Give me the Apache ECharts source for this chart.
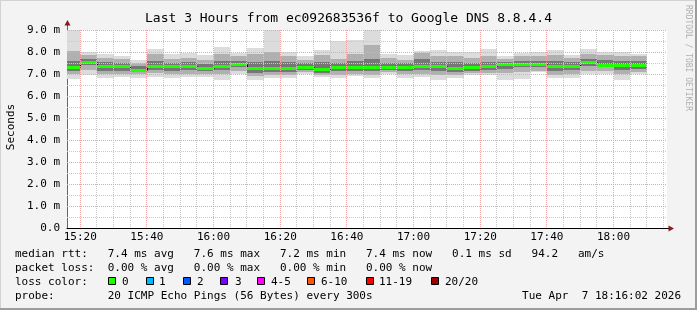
<!DOCTYPE html>
<html><head><meta charset="utf-8">
<script src="https://cdn.jsdelivr.net/npm/echarts@6/dist/echarts.min.js"></script>
<style>html,body{margin:0;padding:0;background:#f3f3f3}#c{width:697px;height:310px}</style>
</head><body><div id="c"></div>
<script>
// ---- data (ms) : each step ends at the time given, 5 minute steps ----
const stepEnds = ['15:20','15:25','15:30','15:35','15:40','15:45','15:50','15:55','16:00','16:05',
  '16:10','16:15','16:20','16:25','16:30','16:35','16:40','16:45','16:50','16:55',
  '17:00','17:05','17:10','17:15','17:20','17:25','17:30','17:35','17:40','17:45',
  '17:50','17:55','18:00','18:05','18:10'];
const median = [7.33,7.55,7.36,7.36,7.20,7.37,7.35,7.38,7.27,7.37,7.45,7.28,7.28,7.29,7.33,7.25,7.34,7.30,7.33,7.34,
  7.34,7.37,7.36,7.28,7.33,7.38,7.46,7.47,7.45,7.37,7.37,7.55,7.43,7.43,7.43];
const pMax = [9.06,7.99,7.90,7.82,7.64,8.14,7.93,7.95,7.87,8.23,7.95,8.17,9.06,7.98,7.83,8.08,8.50,8.55,9.06,7.93,
  7.86,8.05,8.10,7.98,7.98,8.13,7.82,7.96,7.98,8.08,7.87,8.13,8.02,7.98,7.93];
const p90 = [8.05,7.85,7.75,7.70,7.50,7.90,7.70,7.75,7.65,7.90,7.80,7.90,8.00,7.80,7.65,7.85,7.70,7.90,8.30,7.75,
  7.65,7.95,7.80,7.80,7.75,7.80,7.70,7.80,7.80,7.85,7.75,7.90,7.85,7.80,7.80];
const p75 = [7.60,7.70,7.55,7.50,7.35,7.60,7.50,7.55,7.45,7.60,7.60,7.55,7.60,7.55,7.50,7.55,7.50,7.60,7.70,7.50,
  7.50,7.70,7.55,7.55,7.50,7.55,7.55,7.60,7.60,7.60,7.55,7.70,7.65,7.60,7.60];
const p25 = [7.15,7.40,7.15,7.15,7.10,7.20,7.15,7.20,7.15,7.20,7.30,7.05,7.10,7.10,7.20,7.05,7.15,7.15,7.15,7.20,
  7.15,7.20,7.15,7.10,7.15,7.20,7.25,7.30,7.30,7.15,7.20,7.35,7.30,7.20,7.25];
const p10 = [7.00,7.20,7.00,7.00,7.00,7.05,7.00,7.00,7.00,7.00,7.15,6.90,6.95,6.95,7.10,6.95,6.95,7.00,6.95,7.10,
  7.00,7.00,6.95,6.95,7.05,7.05,7.05,7.10,7.15,6.95,7.00,7.15,7.15,7.00,7.10];
const pMin = [6.78,6.94,6.80,6.87,6.84,6.88,6.82,6.87,6.87,6.75,7.00,6.75,6.80,6.84,7.00,6.87,6.82,6.90,6.82,7.00,
  6.84,6.87,6.74,6.84,6.94,6.94,6.74,6.79,7.07,6.84,6.84,6.99,7.01,6.74,7.00];
const stepMinutes = 5;
const timeStart = '15:16:02', timeEnd = '18:16:02';
const xMajorMin = 20, xMinorMin = 5;     // grid spacing (minutes)
const yMajor = 1, yMinor = 0.5, yMaxMs = 9; // grid spacing (ms)
const lossLabels = ['0','1','2','3','4-5','6-10','11-19','20/20'];
const lossColors = ['#1eff00','#00b8ff','#0059ff','#7e00ff','#ff00ff','#ff5500','#ff0000','#a10000'];
const titleText = 'Last 3 Hours from ec092683536f to Google DNS 8.8.4.4';
const legendLines = [
  'median rtt:   7.4 ms avg   7.6 ms max   7.2 ms min   7.4 ms now   0.1 ms sd   94.2   am/s',
  'packet loss:  0.00 % avg   0.00 % max   0.00 % min   0.00 % now',
  'loss color:',
  'probe:        20 ICMP Echo Pings (56 Bytes) every 300s'
];
const stampText = 'Tue Apr  7 18:16:02 2026';

// ---- helpers ----
function toMin(s){const p=s.split(':').map(Number);return p[0]*60+p[1]+(p[2]||0)/60;}
function fmtMin(v){const h=Math.floor(v/60), m=Math.round(v-h*60);return (h<10?'0':'')+h+':'+(m<10?'0':'')+m;}
const endMin = stepEnds.map(toMin);
const xMin = toMin(timeStart), xMax = toMin(timeEnd);
const FONT = 'DejaVu Sans Mono';
const G = {left:67, right:30, top:30, bottom:82};
const W = 697, H = 310;
const plotR = W - G.right, plotB = H - G.bottom;
const RED = '#f2a2a2', GREY = '#c8c8c8';

function renderSmoke(params, api){
  const i = api.value(2);
  const t2 = endMin[i], t1 = t2 - stepMinutes;
  const cs = params.coordSys;
  const clipBox = {x:cs.x, y:cs.y, width:cs.width, height:cs.height};
  const bands = [[pMin,pMax,'#dcdcdc'],[p10,p90,'#b0b0b0'],[p25,p75,'#767676']];
  const children = [];
  bands.forEach(b=>{
    const a = api.coord([t1, b[1][i]]), c = api.coord([t2, b[0][i]]);
    const x1 = Math.round(a[0]), x2 = Math.round(c[0]), y1 = Math.round(a[1]), y2 = Math.round(c[1]);
    const r = echarts.graphic.clipRectByRect({x:x1, y:y1, width:x2-x1, height:y2-y1}, clipBox);
    if (r) children.push({type:'rect', shape:r, style:{fill:b[2]}});
  });
  const m1 = api.coord([t1, median[i]]), m2 = api.coord([t2, median[i]]);
  const xa = Math.round(m1[0]), xb = Math.round(m2[0]);
  const ym = Math.round(m1[1]) + 0.5;
  if (i > 0) {
    const pv = api.coord([t1, median[i-1]]);
    children.push({type:'line', shape:{x1:xa+0.5, y1:Math.round(pv[1])+0.5, x2:xa+0.5, y2:ym}, style:{stroke:'#000', lineWidth:1}});
  }
  children.push({type:'line', shape:{x1:Math.max(xa, cs.x), y1:ym, x2:xb, y2:ym}, style:{stroke:lossColors[0], lineWidth:3}});
  return {type:'group', children};
}

function renderGrid(params, api){
  const cs = params.coordSys;
  const minor = [], major = [];
  for (let t = Math.ceil(xMin / xMinorMin) * xMinorMin; t < xMax; t += xMinorMin) {
    const x = Math.floor(api.coord([t, 0])[0]) + 0.5;
    const el = {type:'line', shape:{x1:x, y1:cs.y, x2:x, y2:cs.y + cs.height}, style:{stroke:(t % xMajorMin === 0) ? RED : GREY, lineWidth:1, lineDash:[1,1]}};
    ((t % xMajorMin === 0) ? major : minor).push(el);
  }
  for (let k = 1; k * yMinor <= yMaxMs + 1e-9; k++) {
    const v = k * yMinor;
    const y = Math.floor(api.coord([xMin, v])[1]) + 0.5;
    const isMaj = Math.abs(v / yMajor - Math.round(v / yMajor)) < 1e-9;
    const el = {type:'line', shape:{x1:cs.x, y1:y, x2:cs.x + cs.width, y2:y}, style:{stroke:isMaj ? RED : GREY, lineWidth:1, lineDash:[1,1]}};
    (isMaj ? major : minor).push(el);
  }
  return {type:'group', children: minor.concat(major)};
}

const graphics = [
  {type:'rect', z:-10, shape:{x:G.left, y:G.top, width:W-G.left-G.right, height:H-G.top-G.bottom}, style:{fill:'#ffffff'}},
  {type:'rect', z:50, shape:{x:0, y:0, width:W, height:1}, style:{fill:'#d2d2d2'}},
  {type:'rect', z:50, shape:{x:0, y:0, width:1, height:H}, style:{fill:'#d2d2d2'}},
  {type:'rect', z:50, shape:{x:W-2, y:0, width:2, height:H}, style:{fill:'#9c9c9c'}},
  {type:'rect', z:50, shape:{x:0, y:H-2, width:W, height:2}, style:{fill:'#9c9c9c'}},
  {type:'line', z:50, shape:{x1:G.left+0.5, y1:G.top, x2:G.left+0.5, y2:24}, style:{stroke:'#666', lineWidth:1}},
  {type:'polygon', z:51, shape:{points:[[G.left+0.5,20],[G.left-2.5,25.5],[G.left+3.5,25.5]]}, style:{fill:'#8b1a1a'}},
  {type:'line', z:50, shape:{x1:plotR, y1:plotB+0.5, x2:plotR+2, y2:plotB+0.5}, style:{stroke:'#000', lineWidth:1}},
  {type:'polygon', z:51, shape:{points:[[plotR+7,plotB+0.5],[plotR+1.5,plotB-2.5],[plotR+1.5,plotB+3.5]]}, style:{fill:'#8b1a1a'}},
  {type:'text', z:50, x:W/2, y:19, style:{text:titleText, font:'13px '+FONT, fill:'#000', align:'center', verticalAlign:'middle'}},
  {type:'text', z:50, x:11, y:127, rotation:Math.PI/2, style:{text:'Seconds', font:'11px '+FONT, fill:'#000', align:'center', verticalAlign:'middle'}},
  {type:'text', z:50, x:688, y:5, rotation:-Math.PI/2, style:{text:'RRDTOOL / TOBI OETIKER', font:'8px '+FONT, fill:'#b0b0b0', align:'left', verticalAlign:'middle'}},
  {type:'text', z:50, x:681, y:296, style:{text:stampText, font:'11px '+FONT, fill:'#000', align:'right', verticalAlign:'middle'}}
];
legendLines.forEach((t,k)=>{
  graphics.push({type:'text', z:50, x:15, y:254+14*k, style:{text:t, font:'11px '+FONT, fill:'#000', align:'left', verticalAlign:'middle'}});
});
const boxX = [108,146,183,220,257,307,366,431];
const labX = [122,159,197,235,271,321,379,445];
lossLabels.forEach((l,k)=>{
  graphics.push({type:'rect', z:50, shape:{x:boxX[k]+0.5, y:277.5, width:7, height:7}, style:{fill:lossColors[k], stroke:'#000', lineWidth:1}});
  graphics.push({type:'text', z:50, x:labX[k], y:282, style:{text:l, font:'11px '+FONT, fill:'#000', align:'left', verticalAlign:'middle'}});
});

const chart = echarts.init(document.getElementById('c'), null, {renderer:'canvas'});
chart.setOption({
  animation:false,
  backgroundColor:'#f3f3f3',
  grid:{left:G.left, right:G.right, top:G.top, bottom:G.bottom, containLabel:false},
  xAxis:{
    type:'value', min:xMin, max:xMax, splitNumber:9, minInterval:xMajorMin, maxInterval:xMajorMin,
    axisLine:{show:true, onZero:false, lineStyle:{color:'#000', width:1}},
    axisTick:{show:false},
    axisLabel:{showMinLabel:false, showMaxLabel:false, formatter:fmtMin, color:'#000', fontFamily:FONT, fontSize:11, margin:4},
    splitLine:{show:false}
  },
  yAxis:{
    type:'value', min:0, max:yMaxMs, interval:yMajor,
    axisLine:{show:true, lineStyle:{color:'#666', width:1}},
    axisTick:{show:false},
    axisLabel:{formatter:v=>v===0?'0.0':v.toFixed(1)+' m', color:'#000', fontFamily:FONT, fontSize:11, margin:7},
    splitLine:{show:false}
  },
  series:[{
    type:'custom', z:1, renderItem:renderSmoke, silent:true,
    encode:{x:0, y:1},
    data:endMin.map((t,i)=>[t, median[i], i])
  },{
    type:'custom', z:2, renderItem:renderGrid, silent:true,
    encode:{x:0, y:1},
    data:[[xMin, 0]]
  }],
  graphic:graphics
});
</script></body></html>
